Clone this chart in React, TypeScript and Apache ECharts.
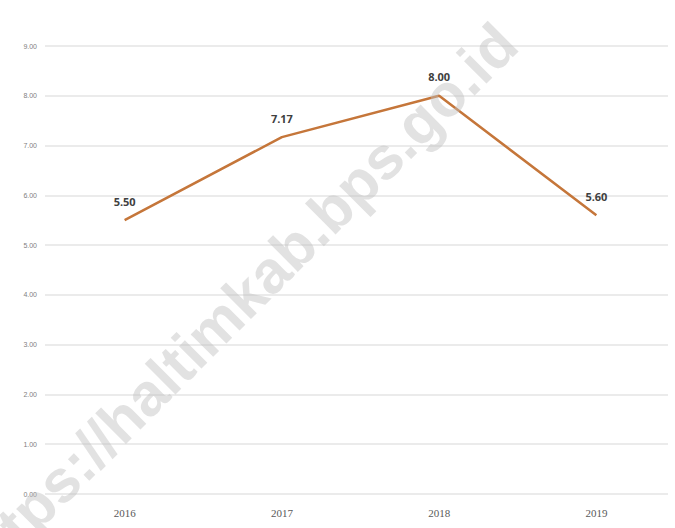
import React, { useEffect, useRef } from "react";
import * as echarts from "echarts";

const years = ["2016", "2017", "2018", "2019"];
const values = [5.5, 7.17, 8.0, 5.6];
const yMin = 0;
const yMax = 9;
const yStep = 1;
const watermarkText = "https://haltimkab.bps.go.id";

export default function App() {
  const ref = useRef<HTMLDivElement>(null);
  useEffect(() => {
    document.body.style.margin = "0";
    if (!ref.current) return;
    const chart = echarts.init(ref.current, null, { renderer: "svg" });
    chart.setOption({
      animation: false,
      backgroundColor: "#ffffff",
      grid: [
        { left: 45, right: 7, top: 46, bottom: 34 },
        { left: 46, right: 0, top: 46, bottom: 34 },
      ],
      xAxis: [
        { type: "category", gridIndex: 0, data: years, show: false },
        {
          type: "category",
          gridIndex: 1,
          data: years,
          boundaryGap: true,
          axisLine: { show: false },
          axisTick: { show: false },
          axisLabel: {
            color: "#595959",
            fontSize: 11,
            fontFamily: "Liberation Serif",
            margin: 13,
          },
        },
      ],
      yAxis: [
        {
          type: "value",
          gridIndex: 0,
          min: yMin,
          max: yMax,
          interval: yStep,
          axisLine: { show: false },
          axisTick: { show: false },
          axisLabel: {
            color: "#808080",
            fontSize: 7,
            fontFamily: "Liberation Sans",
            margin: 8,
            formatter: (v: number) => v.toFixed(2),
          },
          splitLine: { lineStyle: { color: "#e4e4e4", width: 1.5 } },
        },
        {
          type: "value",
          gridIndex: 1,
          min: yMin,
          max: yMax,
          interval: yStep,
          show: false,
          splitLine: { show: false },
        },
      ],
      series: [
        {
          type: "line",
          xAxisIndex: 1,
          yAxisIndex: 1,
          data: values,
          showSymbol: true,
          symbol: "circle",
          symbolSize: 1,
          itemStyle: { color: "rgba(0,0,0,0)" },
          lineStyle: { color: "#c5763a", width: 2.5 },
          label: {
            show: true,
            position: "top",
            distance: 13,
            color: "#404040",
            fontSize: 11,
            fontWeight: "bold",
            fontFamily: "Open Sans",
            formatter: (p: any) => Number(p.value).toFixed(2),
          },
          z: 3,
        },
      ],
      graphic: [
        {
          type: "text",
          x: 237,
          y: 304,
          rotation: (45 * Math.PI) / 180,
          z: 100,
          style: {
            text: watermarkText,
            fill: "rgba(190,190,190,0.45)",
            font: "bold 60px 'Liberation Sans'",
            textAlign: "center",
            textVerticalAlign: "middle",
          },
        },
      ],
    });
    return () => chart.dispose();
  }, []);
  return <div ref={ref} style={{ width: 675, height: 528 }} />;
}
